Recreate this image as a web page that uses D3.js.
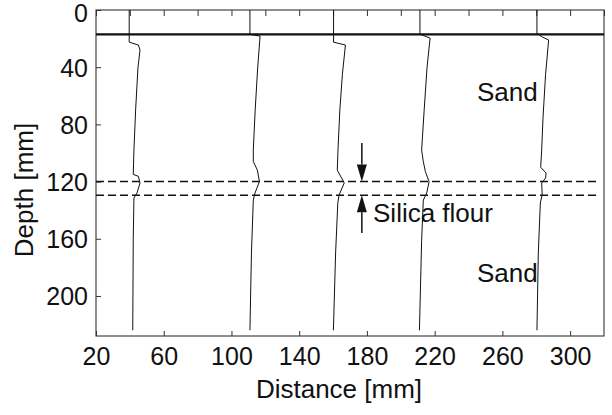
<!DOCTYPE html>
<html>
<head>
<meta charset="utf-8">
<script src="https://cdn.jsdelivr.net/npm/d3@7"></script>
<style>
  html, body { margin: 0; padding: 0; background: #fff; }
  svg { display: block; font-family: "Liberation Sans", Arial, Helvetica, sans-serif; }
</style>
</head>
<body>
<svg id="chart" width="612" height="415"></svg>
<script>
// ---- data (distance mm, depth mm) ----
const distanceTicks = [20, 60, 100, 140, 180, 220, 260, 300];
const topTicks = [20, 40, 60, 80, 100, 120, 140, 160, 180, 200, 220, 240, 260, 280, 300, 320];
const depthTicks = [0, 40, 80, 120, 160, 200];

const profile1 = [[39.6,0],[39.6,22.5],[45.0,24.5],[46.0,28],[44.8,40],[43.4,70],[42.4,98],[42.0,115],[45.0,116.3],[46.0,121],[44.2,128],[42.4,131.5],[42.0,160],[41.7,224]];
const profile2 = [[110.9,0],[110.9,17],[116.9,18.3],[115.5,40],[114.0,70],[112.9,98],[112.9,106],[115.3,112],[116.5,120],[113.9,128],[112.9,133],[111.8,170],[110.9,224]];
const profile3 = [[160.3,0],[160.3,22.5],[167.3,24.5],[165.5,45],[164.0,70],[162.9,98],[162.5,112],[166.6,121],[163.5,129.5],[162.8,135],[161.5,170],[160.2,224]];
const profile4 = [[211.3,0],[211.3,17],[217.3,19.6],[215.5,40],[213.8,70],[212.3,98],[213.3,106],[214.5,113],[216.7,120],[215.3,128],[213.3,133],[212.3,161],[211.0,224]];
const profile5 = [[280.4,0],[280.4,16.5],[283.8,19],[287.3,21],[285.5,45],[284.0,75],[283.2,98],[282.6,110],[285.8,114],[285.5,117.5],[283.2,121],[283.5,129],[282.4,135],[281.2,170],[280.4,224]];
const profiles = [profile1, profile2, profile3, profile4, profile5];

const surfaceDepth = 17;              // thick horizontal line
const layerDepths = [120, 129.5];     // silica flour layer boundaries (dashed)
const arrowDistance = 177;
const arrowDown = [93, 120];          // from, to (depth)
const arrowUp = [156, 129.5];
const labels = [
  { text: "Sand", x: 245, depth: 63.5 },
  { text: "Silica flour", x: 183.6, depth: 148 },
  { text: "Sand", x: 245, depth: 190 }
];

// ---- layout ----
const svg = d3.select("#chart");
const L = 96, R = 604, T = 10, B = 336;
const x = d3.scaleLinear().domain([20, 320]).range([L, R]);
const y = d3.scaleLinear().domain([0, 228]).range([T, B]);
const ink = "#111";

// axes
const gx = svg.append("g").attr("transform", `translate(0,${B})`)
  .call(d3.axisBottom(x).tickValues(distanceTicks).tickSize(-5).tickPadding(11).tickFormat(d3.format("d")));
const gt = svg.append("g").attr("transform", `translate(0,${T})`)
  .call(d3.axisTop(x).tickValues(topTicks).tickSize(-6).tickFormat(""));
const gy = svg.append("g").attr("transform", `translate(${L},0)`)
  .call(d3.axisLeft(y).tickValues(depthTicks).tickSize(-5).tickPadding(8).tickFormat(d3.format("d")));
[gx, gt, gy].forEach(g => {
  g.select(".domain").remove();
  g.selectAll(".tick line").attr("stroke", "#333").attr("stroke-width", 1);
  g.selectAll(".tick text").attr("fill", ink).style("font-size", "25px").style("font-family", "'Liberation Sans', Arial, sans-serif");
});
gy.selectAll(".tick text").attr("dy", d => d === 0 ? "0.46em" : "0.36em");

// frame
svg.append("rect").attr("x", L).attr("y", T).attr("width", R - L).attr("height", B - T)
  .attr("fill", "none").attr("stroke", "#333").attr("stroke-width", 1.1);

// surface line
svg.append("line").attr("x1", L).attr("x2", R).attr("y1", y(surfaceDepth)).attr("y2", y(surfaceDepth))
  .attr("stroke", ink).attr("stroke-width", 2.2);

// dashed layer lines
svg.selectAll(".layer").data(layerDepths).enter().append("line")
  .attr("x1", L).attr("x2", x(317.5)).attr("y1", d => y(d)).attr("y2", d => y(d))
  .attr("stroke", ink).attr("stroke-width", 1.5).attr("stroke-dasharray", "8,4");

// profiles
const line = d3.line().x(d => x(d[0])).y(d => y(d[1]));
svg.selectAll(".profile").data(profiles).enter().append("path")
  .attr("d", line).attr("fill", "none").attr("stroke", ink).attr("stroke-width", 1);

// arrows
function arrow(from, to) {
  const x0 = x(arrowDistance), y0 = y(from), y1 = y(to);
  const dir = Math.sign(y1 - y0), head = 17, hw = 5;
  svg.append("line").attr("x1", x0).attr("x2", x0).attr("y1", y0).attr("y2", y1 - dir * head)
    .attr("stroke", ink).attr("stroke-width", 1.5);
  svg.append("path")
    .attr("d", `M${x0},${y1} L${x0 - hw},${y1 - dir * head} L${x0 + hw},${y1 - dir * head} Z`)
    .attr("fill", ink);
}
arrow(arrowDown[0], arrowDown[1]);
arrow(arrowUp[0], arrowUp[1]);

// annotations
svg.selectAll(".ann").data(labels).enter().append("text")
  .attr("x", d => x(d.x)).attr("y", d => y(d.depth))
  .attr("fill", ink).style("font-size", "26px").text(d => d.text);

// axis titles
svg.append("text").attr("x", 339).attr("y", 398).attr("text-anchor", "middle")
  .attr("fill", ink).style("font-size", "26px").text("Distance [mm]");
svg.append("text").attr("transform", "translate(33,190) rotate(-90)").attr("text-anchor", "middle")
  .attr("fill", ink).style("font-size", "26px").text("Depth [mm]");
</script>
</body>
</html>
